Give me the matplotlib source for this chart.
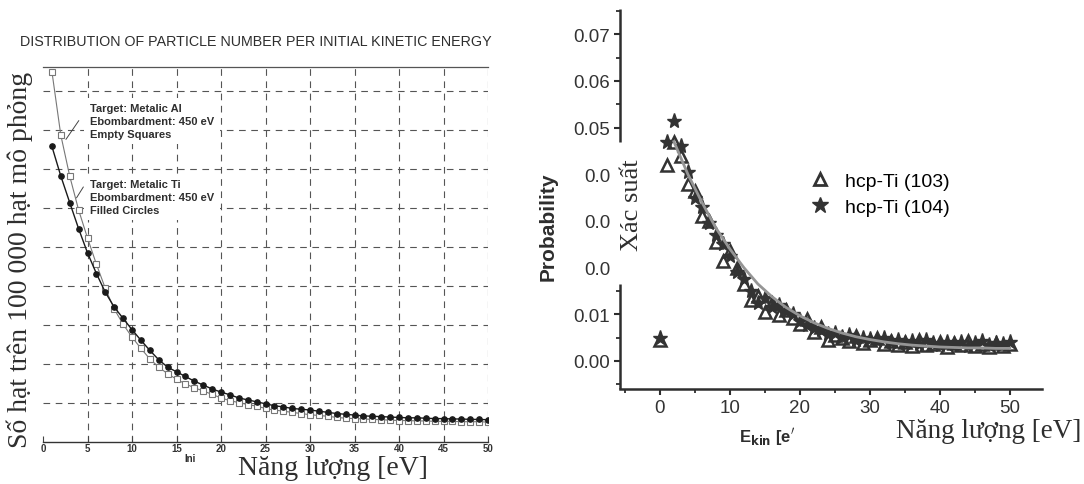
import matplotlib
matplotlib.use("Agg")
import matplotlib.pyplot as plt
from matplotlib.ticker import MultipleLocator

W, H = 1084, 485

# ---- left panel: particles per 100 000 simulated particles ----
energy_ev = list(range(1, 51))
ti_counts = [7.58, 6.82, 6.14, 5.47, 4.85, 4.32, 3.84, 3.46, 3.17, 2.88,
             2.61, 2.35, 2.11, 1.92, 1.80, 1.68, 1.56, 1.46, 1.36, 1.28,
             1.21, 1.13, 1.08, 1.03, 0.98, 0.93, 0.90, 0.86, 0.84, 0.82,
             0.79, 0.76, 0.73, 0.71, 0.69, 0.67, 0.66, 0.65, 0.64, 0.63,
             0.62, 0.62, 0.61, 0.60, 0.60, 0.59, 0.59, 0.58, 0.58, 0.57]
al_counts = [9.50, 7.87, 6.82, 5.95, 5.23, 4.56, 3.94, 3.41, 3.02, 2.69,
             2.40, 2.13, 1.92, 1.75, 1.61, 1.49, 1.39, 1.31, 1.22, 1.13,
             1.06, 1.01, 0.96, 0.92, 0.86, 0.82, 0.79, 0.76, 0.73, 0.70,
             0.68, 0.66, 0.63, 0.61, 0.60, 0.59, 0.58, 0.57, 0.56, 0.55,
             0.55, 0.54, 0.54, 0.53, 0.53, 0.53, 0.52, 0.52, 0.52, 0.51]
left_xticks = [0, 5, 10, 15, 20, 25, 30, 35, 40, 45, 50]
left_grid_y = [1, 2, 3, 4, 5, 6, 7, 8, 9]

# ---- right panel: probability vs kinetic energy ----
ekin_ev = list(range(0, 51))
prob_103 = [0.0045, 0.0420, 0.0470, 0.0440, 0.0380, 0.0365, 0.0310, 0.0300, 0.0255, 0.0215,
            0.0235, 0.0200, 0.0165, 0.0130, 0.0140, 0.0105, 0.0125, 0.0098, 0.0110, 0.0092,
            0.0080, 0.0090, 0.0062, 0.0072, 0.0045, 0.0056, 0.0050, 0.0042, 0.0053, 0.0038,
            0.0045, 0.0050, 0.0037, 0.0043, 0.0035, 0.0040, 0.0032, 0.0044, 0.0034, 0.0037,
            0.0041, 0.0031, 0.0039, 0.0034, 0.0042, 0.0032, 0.0036, 0.0030, 0.0038, 0.0033,
            0.0037]
prob_104 = [0.0050, 0.0470, 0.0515, 0.0460, 0.0405, 0.0350, 0.0330, 0.0295, 0.0270, 0.0250,
            0.0225, 0.0190, 0.0175, 0.0150, 0.0125, 0.0135, 0.0115, 0.0120, 0.0108, 0.0100,
            0.0085, 0.0078, 0.0070, 0.0066, 0.0058, 0.0060, 0.0052, 0.0055, 0.0046, 0.0050,
            0.0048, 0.0044, 0.0049, 0.0041, 0.0045, 0.0038, 0.0042, 0.0036, 0.0045, 0.0039,
            0.0034, 0.0041, 0.0036, 0.0040, 0.0033, 0.0038, 0.0042, 0.0035, 0.0039, 0.0036,
            0.0040]
fit_ev = [2, 4, 6, 8, 10, 12, 14, 16, 18, 20, 22, 24, 26, 28, 30,
          32, 34, 36, 38, 40, 42, 44, 46, 48, 50]
fit_prob = [0.0470, 0.0400, 0.0340, 0.0285, 0.0240, 0.0200, 0.0165, 0.0138, 0.0115, 0.0097,
            0.0082, 0.0070, 0.0060, 0.0052, 0.0046, 0.0041, 0.0037, 0.0034, 0.0032, 0.0030,
            0.0029, 0.0028, 0.0028, 0.0027, 0.0027]
right_xticks = [0, 10, 20, 30, 40, 50]
right_yticks = [0.00, 0.01, 0.02, 0.03, 0.04, 0.05, 0.06, 0.07]
right_ytick_labels = ['0.00', '0.01', '0.0', '0.0', '0.0', '0.05', '0.06', '0.07']

SANS = 'Liberation Sans'
SERIF = 'Liberation Serif'
INK = '#2e2e2e'


def fx(px):
    return px / W


def fy(py):
    return 1 - py / H


fig = plt.figure(figsize=(W / 100, H / 100), dpi=100)
fig.patch.set_facecolor('white')

# ================= left panel =================
ax1 = fig.add_axes([fx(43), fy(443), (488 - 43) / W, (443 - 68) / H])
ax1.set_xlim(0, 50)
ax1.set_ylim(0, 375 / 39)
for v in left_xticks[1:]:
    ax1.axvline(v, color='#555555', lw=0.8, ls=(0, (6, 5)), zorder=1)
for v in left_grid_y:
    ax1.axhline(v, color='#555555', lw=0.8, ls=(0, (6, 5)), zorder=1)

ax1.plot(energy_ev, al_counts, color='#777777', lw=0.8, marker='s', ms=4,
         mfc='white', mec='#777777', mew=0.8, zorder=3)
ax1.plot(energy_ev, ti_counts, color='#1a1a1a', lw=1.0, marker='o', ms=3.8,
         mfc='#1a1a1a', mec='#1a1a1a', zorder=4)

ax1.set_xticks(left_xticks)
ax1.set_xticklabels([str(t) for t in left_xticks], fontsize=7,
                    fontweight='bold', family=SANS, color='#333333')
ax1.set_yticks([])
ax1.tick_params(axis='x', direction='in', length=4, pad=1, color='#444444')
ax1.spines['left'].set_visible(False)
ax1.spines['right'].set_visible(False)
ax1.spines['top'].set_color('#555555')
ax1.spines['top'].set_linewidth(0.9)
ax1.spines['bottom'].set_color('#333333')
ax1.spines['bottom'].set_linewidth(1.0)

ax1.annotate('', xy=(2.4, 7.7), xytext=(4.2, 8.3),
             arrowprops=dict(arrowstyle='-', color='#444444', lw=0.7))
ax1.annotate('', xy=(3.6, 6.2), xytext=(4.7, 6.6),
             arrowprops=dict(arrowstyle='-', color='#444444', lw=0.7))

box = dict(facecolor='white', edgecolor='none', pad=4)
fig.text(fx(90), fy(122), 'Target: Metalic Al\nEbombardment: 450 eV\nEmpty Squares',
         fontsize=8, fontweight='bold', family=SANS, color=INK,
         va='center', ha='left', linespacing=1.35, bbox=box, zorder=5)
fig.text(fx(90), fy(198), 'Target: Metalic Ti\nEbombardment: 450 eV\nFilled Circles',
         fontsize=8, fontweight='bold', family=SANS, color=INK,
         va='center', ha='left', linespacing=1.35, bbox=box, zorder=5)

fig.text(fx(256), fy(42), 'DISTRIBUTION OF PARTICLE NUMBER PER INITIAL KINETIC ENERGY',
         fontsize=10.3, family=SANS, color=INK, ha='center', va='center')
fig.text(fx(20), fy(260), 'Số hạt trên 100 000 hạt mô phỏng', rotation=90,
         fontsize=20, family=SERIF, color=INK, ha='center', va='center')
fig.text(fx(190), fy(459), 'Ini', fontsize=7, fontweight='bold', family=SANS,
         color=INK, ha='center', va='center')
fig.text(fx(333), fy(469), 'Năng lượng [eV]', fontsize=20, family=SERIF,
         color=INK, ha='center', va='center')

# ================= right panel =================
ax2 = fig.add_axes([fx(620), fy(390), (1042 - 620) / W, 380 / H])
xmin, xmax = -5.7, 54.6
ymin, ymax = -0.006, 0.0754
ax2.set_xlim(xmin, xmax)
ax2.set_ylim(ymin, ymax)

ax2.plot(ekin_ev, prob_103, ls='none', marker='^', ms=8, mfc='none',
         mec='#333333', mew=1.8, zorder=3)
ax2.plot(ekin_ev, prob_104, ls='none', marker='*', ms=11, color='#333333',
         zorder=3)
ax2.plot(fit_ev, fit_prob, color='#959595', lw=2.0, zorder=4)

ax2.set_xticks(right_xticks)
ax2.set_xticklabels([str(t) for t in right_xticks], fontsize=13.5,
                    family=SANS, color='#333333')
ax2.xaxis.set_minor_locator(MultipleLocator(5))
ax2.set_yticks(right_yticks)
ax2.set_yticklabels(right_ytick_labels, fontsize=13.5, family=SANS, color='#333333')
ax2.yaxis.set_minor_locator(MultipleLocator(0.005))
ax2.tick_params(axis='both', which='major', direction='out', length=4,
                width=1.5, color=INK, pad=3)
ax2.tick_params(axis='both', which='minor', direction='out', length=3,
                width=1.3, color=INK)

# the y axis line is broken between ~0.017 and 0.047
gap_lo, gap_hi = 0.0165, 0.047
for tick, loc in zip(ax2.yaxis.get_major_ticks(), ax2.get_yticks()):
    if gap_lo < loc < gap_hi:
        tick.tick1line.set_visible(False)
for tick, loc in zip(ax2.yaxis.get_minor_ticks(), ax2.yaxis.get_minorticklocs()):
    if gap_lo < loc < gap_hi:
        tick.tick1line.set_visible(False)

for side in ('top', 'right', 'left'):
    ax2.spines[side].set_visible(False)
ax2.spines['bottom'].set_linewidth(1.8)
ax2.spines['bottom'].set_color(INK)
ax2.plot([xmin, xmin], [gap_hi, ymax], color=INK, lw=1.8, clip_on=False,
         solid_capstyle='butt')
ax2.plot([xmin, xmin], [ymin, gap_lo], color=INK, lw=1.8, clip_on=False,
         solid_capstyle='butt')

h103, = ax2.plot([], [], ls='none', marker='^', ms=8, mfc='none', mec='#333333', mew=2)
h104, = ax2.plot([], [], ls='none', marker='*', ms=12, color='#333333')
ax2.legend([h103, h104], ['hcp-Ti (103)', 'hcp-Ti (104)'], loc='upper left',
           bbox_to_anchor=(fx(810), fy(173)), bbox_transform=fig.transFigure,
           frameon=False, prop={'family': SANS, 'size': 14},
           handletextpad=0.8, labelspacing=0.45, handlelength=1.0,
           borderaxespad=0, borderpad=0)

fig.text(fx(548), fy(227), 'Probability', rotation=90, fontsize=15,
         fontweight='bold', family=SANS, color=INK, ha='center', va='center')
fig.text(fx(632), fy(205), 'Xác suất', rotation=90, fontsize=19,
         family=SERIF, color=INK, ha='center', va='center')
fig.text(fx(767), fy(437), r'E$_{\mathbf{kin}}$ [e$^{\prime}$', fontsize=12,
         fontweight='bold', family=SANS, color=INK, ha='center', va='center')
fig.text(fx(989), fy(432), 'Năng lượng [eV]', fontsize=19.5, family=SERIF,
         color=INK, ha='center', va='center')

fig.savefig('out.png', dpi=100, facecolor='white')
